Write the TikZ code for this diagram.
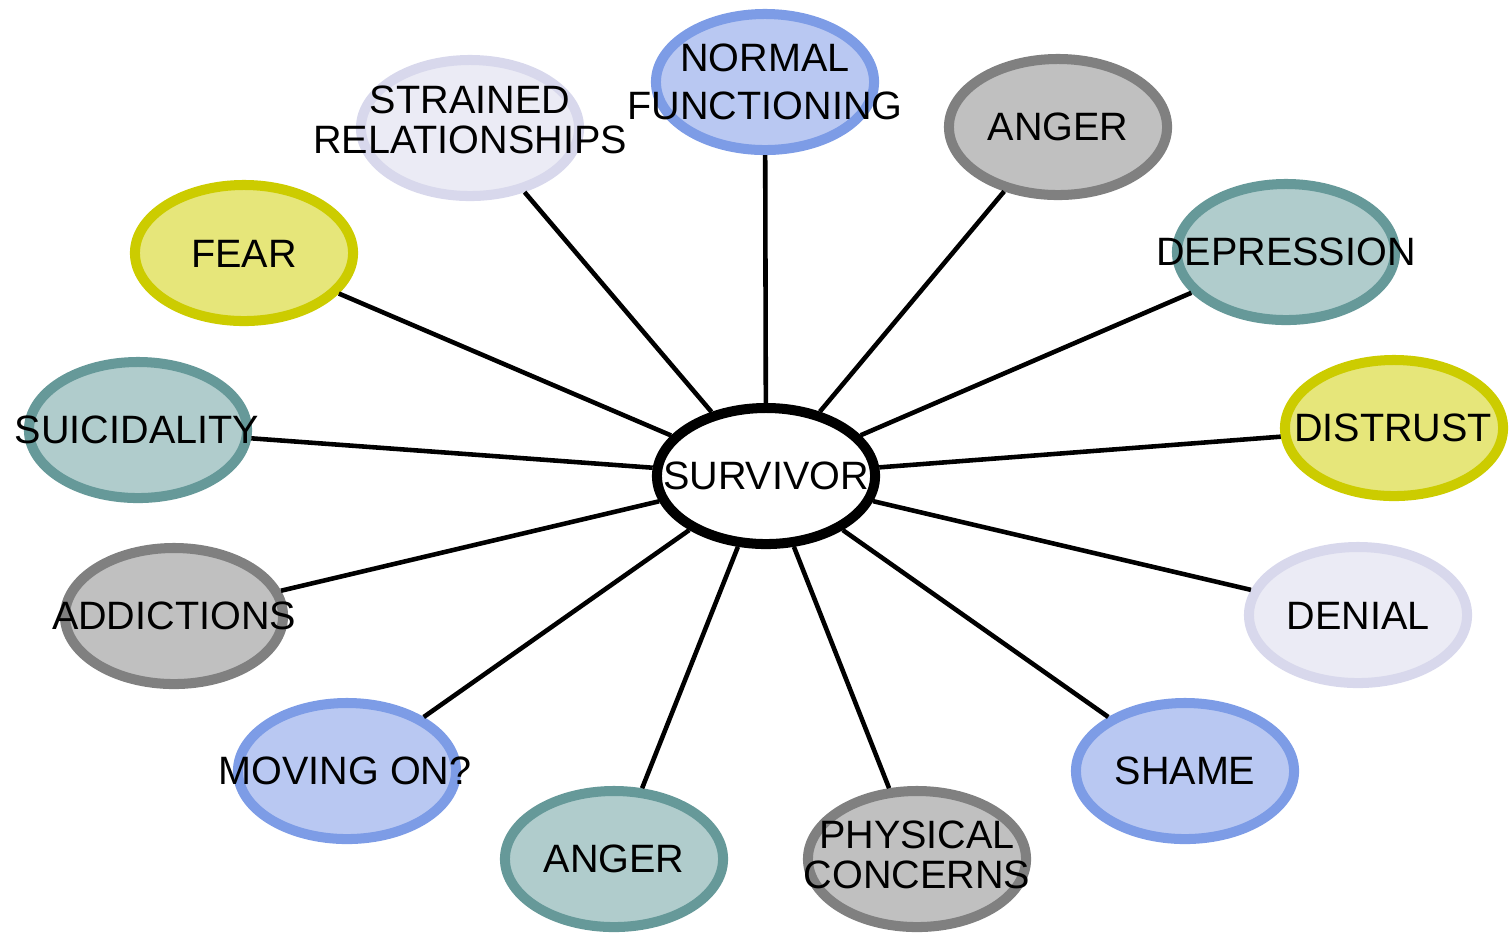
\documentclass[tikz,border=0pt]{standalone}
\usepackage{fontspec}
\setmainfont{Liberation Sans}
\usetikzlibrary{shapes.geometric}

\definecolor{bluefill}{HTML}{B9C8F2}
\definecolor{blueline}{HTML}{7D9CE6}
\definecolor{tealfill}{HTML}{B0CCCC}
\definecolor{tealline}{HTML}{669999}
\definecolor{greyfill}{HTML}{C0C0C0}
\definecolor{greyline}{HTML}{808080}
\definecolor{yellowfill}{HTML}{E6E67A}
\definecolor{yellowline}{HTML}{CCCC00}
\definecolor{lilacfill}{HTML}{EBEBF5}
\definecolor{lilacline}{HTML}{D8D8EC}

\begin{document}
\begin{tikzpicture}[
    x=0.01cm, y=-0.01cm,
    bubble/.style={ellipse, draw, line width=2.85pt, minimum width=2.18cm,
      minimum height=1.36cm, inner sep=0pt},
    bluebub/.style={bubble, fill=bluefill, draw=blueline},
    tealbub/.style={bubble, fill=tealfill, draw=tealline},
    greybub/.style={bubble, fill=greyfill, draw=greyline},
    yellowbub/.style={bubble, fill=yellowfill, draw=yellowline},
    lilacbub/.style={bubble, fill=lilacfill, draw=lilacline},
    txt/.style={align=center, inner sep=0pt,
      font=\fontsize{11.25}{11.4}\selectfont},
    link/.style={line width=1.3pt}
  ]
    \useasboundingbox (0,0) rectangle (1510,932);
    % centre
    \node[bubble, draw=black, fill=white] (survivor) at (766,476) {};
    % outer ring
    \node[bluebub] (normal) at (765,82) {};
    \node[lilacbub] (strained) at (470,128) {};
    \node[greybub] (angertop) at (1058,127) {};
    \node[tealbub] (depression) at (1286,252) {};
    \node[yellowbub] (fear) at (244,253) {};
    \node[tealbub] (suicidality) at (138,430) {};
    \node[yellowbub] (distrust) at (1394,428) {};
    \node[greybub] (addictions) at (174,616) {};
    \node[lilacbub] (denial) at (1358,615) {};
    \node[bluebub] (movingon) at (347,771) {};
    \node[bluebub] (shame) at (1185,771) {};
    \node[tealbub] (angerbot) at (614,859) {};
    \node[greybub] (physical) at (917,859) {};
    % spokes
    \foreach \n in {normal, strained, angertop, depression, fear, suicidality,
        distrust, addictions, denial, movingon, shame, angerbot, physical}
      \draw[link] (survivor) -- (\n);
    % texts
    \node[txt] (survivortxt) at (766,476) {SURVIVOR};
    \node[txt] (normaltxt) at (765,82) {NORMAL\\[2.3pt]FUNCTIONING};
    \node[txt] (strainedtxt) at (470,120) {STRAINED\\RELATIONSHIPS};
    \node[txt] (angertoptxt) at (1058,127) {ANGER};
    \node[txt] (depressiontxt) at (1286,252) {DEPRESSION};
    \node[txt] (feartxt) at (244,254) {FEAR};
    \node[txt] (suicidalitytxt) at (137,430) {SUICIDALITY};
    \node[txt] (distrusttxt) at (1393,428) {DISTRUST};
    \node[txt] (addictionstxt) at (174,616) {ADDICTIONS};
    \node[txt] (denialtxt) at (1358,616) {DENIAL};
    \node[txt] (movingontxt) at (345,771) {MOVING ON?};
    \node[txt] (shametxt) at (1185,771) {SHAME};
    \node[txt] (angerbottxt) at (614,859) {ANGER};
    \node[txt] (physicaltxt) at (917,855) {PHYSICAL\\CONCERNS};
  \end{tikzpicture}
\end{document}
